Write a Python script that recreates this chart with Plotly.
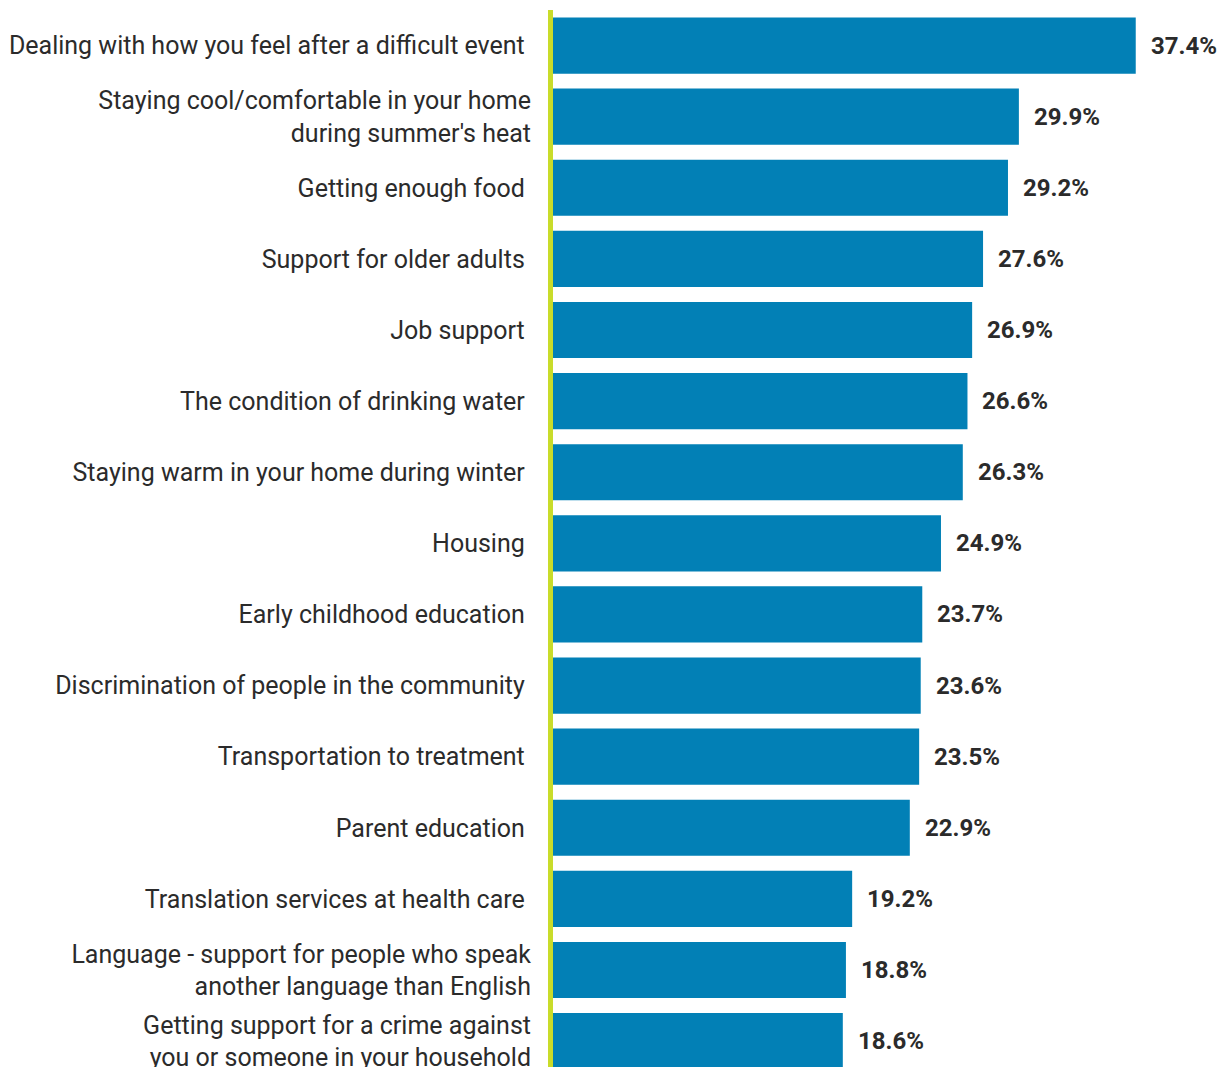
import plotly.graph_objects as go

categories = [
    "Dealing with how you feel after a difficult event",
    "Staying cool/comfortable in your home<br>during summer's heat",
    "Getting enough food",
    "Support for older adults",
    "Job support",
    "The condition of drinking water",
    "Staying warm in your home during winter",
    "Housing",
    "Early childhood education",
    "Discrimination of people in the community",
    "Transportation to treatment",
    "Parent education",
    "Translation services at health care",
    "Language - support for people who speak<br>another language than English",
    "Getting support for a crime against<br>you or someone in your household",
]
values = [37.4, 29.9, 29.2, 27.6, 26.9, 26.6, 26.3, 24.9, 23.7, 23.6, 23.5, 22.9, 19.2, 18.8, 18.6]
value_labels = [f"{v:.1f}%" for v in values]

# single-line labels get a trailing non-breaking space (as in the original)
tick_text = [c if "<br>" in c else c + "\u00a0" for c in categories]

BAR = "#0280b6"
LINE = "#c9dc2a"
TXT = "#2b2b2b"

fig = go.Figure()
fig.add_trace(go.Bar(
    x=values,
    y=list(range(len(categories))),
    orientation="h",
    marker=dict(color=BAR, line=dict(width=0)),
    hoverinfo="skip",
))

for i, (v, lab) in enumerate(zip(values, value_labels)):
    fig.add_annotation(
        x=v, y=i, text=f"<b>{lab}</b>", showarrow=False,
        xanchor="left", yanchor="middle", xshift=13,
        font=dict(family="Roboto", size=24, color=TXT),
    )

fig.update_layout(
    width=1223, height=1059,
    margin=dict(l=545, r=8, t=2, b=0, pad=0, autoexpand=False),
    paper_bgcolor="white", plot_bgcolor="white",
    bargap=0.21,
    showlegend=False,
    xaxis=dict(range=[0, 43], visible=False, fixedrange=True, automargin=False),
    yaxis=dict(
        range=[14.364, -0.5],
        automargin=False,
        tickmode="array",
        tickvals=list(range(len(categories))),
        ticktext=tick_text,
        showline=True, linewidth=5, linecolor=LINE,
        showgrid=False, zeroline=False,
        ticks="outside", ticklen=12, tickcolor="rgba(0,0,0,0)",
        ticklabeloverflow="allow",
        tickfont=dict(family="Roboto", size=25, color=TXT),
    ),
)

fig.write_html("out.html")
